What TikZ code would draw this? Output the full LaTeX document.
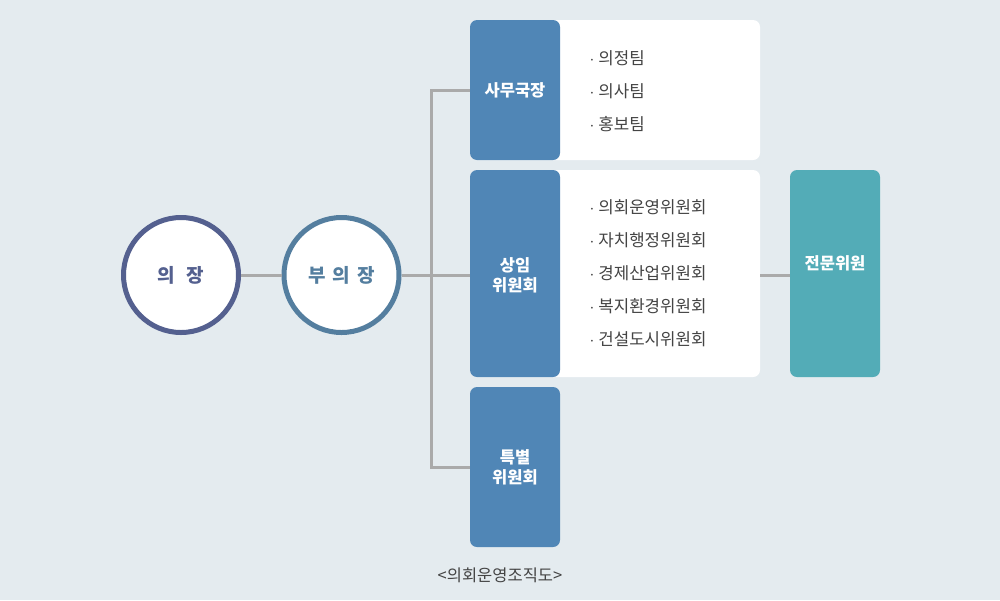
\documentclass[tikz,border=0pt]{standalone}
\usepackage{fontspec}
\setmainfont{Noto Sans CJK KR}
\usepackage{tikz}
\usetikzlibrary{positioning}

\definecolor{bgc}{HTML}{E4EBEF}
\definecolor{chairc}{HTML}{54608F}
\definecolor{vicec}{HTML}{547E9F}
\definecolor{boxblue}{HTML}{5086B6}
\definecolor{boxteal}{HTML}{53ACB7}
\definecolor{linegray}{HTML}{AAAAAA}
\definecolor{txtgray}{HTML}{444444}

\tikzset{
  circ/.style={circle, fill=white, line width=5pt, minimum size=115pt, inner sep=0pt,
    font=\fontsize{19}{22}\selectfont\bfseries},
  panel/.style={rectangle, rounded corners=7pt, fill=white, minimum width=290pt, inner sep=0pt,
    path picture={\fill[boxblue] (path picture bounding box.north west) rectangle
      ([xshift=90pt]path picture bounding box.south west);}},
  bluebox/.style={rectangle, rounded corners=7pt, fill=boxblue, minimum width=90pt, inner sep=0pt},
  tealbox/.style={rectangle, rounded corners=7pt, fill=boxteal, minimum width=90pt,
    minimum height=207pt, inner sep=0pt},
  head/.style={text=white, align=center, font=\fontsize{16.5}{20}\selectfont\bfseries},
  items/.style={anchor=west, text=txtgray, align=left, font=\fontsize{16.8}{33}\selectfont},
  conn/.style={draw=linegray, line width=3pt}
}

\begin{document}
\begin{tikzpicture}[x=1pt,y=-1pt]
\fill[bgc] (0,0) rectangle (1000,600);
\useasboundingbox (0,0) rectangle (1000,600);
\node[circ, draw=chairc, text=chairc] (A) at (181,275) {의\hspace{12pt}장};
\node[circ, draw=vicec, text=vicec] (B) at (341.5,275) {부\hspace{7pt}의\hspace{7pt}장};
\coordinate (J) at (431,275);
\node[panel, minimum height=140pt] (C1) at (615,90) {};
\node[panel, minimum height=207pt] (C2) at (615,273.5) {};
\node[bluebox, minimum height=160pt] (C3) at (515,467) {};
\node[tealbox] (D) at (835,273.5) {};
\node[head] (C1h) at (515,90) {사무국장};
\node[head] (C2h) at (515,275) {상임\\위원회};
\node[head] (C3h) at (515,467) {특별\\위원회};
\node[head] (Dh) at (835,263) {전문위원};
\node[items] (C1i) at (586,91) {$\cdot$\hspace{4pt}의정팀\\$\cdot$\hspace{4pt}의사팀\\$\cdot$\hspace{4pt}홍보팀};
\node[items] (C2i) at (586,273.5) {$\cdot$\hspace{4pt}의회운영위원회\\$\cdot$\hspace{4pt}자치행정위원회\\$\cdot$\hspace{4pt}경제산업위원회\\$\cdot$\hspace{4pt}복지환경위원회\\$\cdot$\hspace{4pt}건설도시위원회};
\node[text=txtgray, font=\fontsize{16.5}{20}\selectfont] (F) at (500,575) {<의회운영조직도>};
\draw[conn] (A) -- (B);
\draw[conn] (B) -- (J -| C2.west);
\draw[conn] (C1.west) -| (J) |- (C3.west);
\draw[conn] (C2.east |- J) -- (D.west |- J);
\end{tikzpicture}
\end{document}
